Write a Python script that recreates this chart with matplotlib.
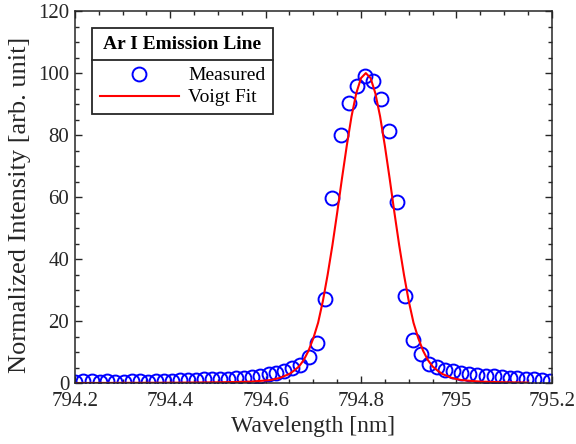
import matplotlib
matplotlib.use('Agg')
import matplotlib.pyplot as plt
from matplotlib.lines import Line2D
from matplotlib.ticker import MultipleLocator

plt.rcParams['font.family'] = ['Liberation Serif', 'DejaVu Serif']

# measured spectrum (wavelength in nm, normalized intensity)
wavelength = [794.201, 794.218, 794.235, 794.252, 794.268, 794.285, 794.302, 794.319,
              794.336, 794.353, 794.370, 794.386, 794.403, 794.420, 794.437, 794.454,
              794.471, 794.488, 794.504, 794.521, 794.538, 794.555, 794.572, 794.589,
              794.606, 794.622, 794.639, 794.656, 794.673, 794.690, 794.707, 794.724,
              794.740, 794.757, 794.774, 794.791, 794.808, 794.825, 794.842, 794.858,
              794.875, 794.892, 794.909, 794.926, 794.943, 794.960, 794.977, 794.993,
              795.010, 795.027, 795.044, 795.061, 795.078, 795.095, 795.112, 795.128,
              795.145, 795.162, 795.179, 795.196]
measured = [0.5, 0.6, 0.6, 0.5, 0.6, 0.5, 0.4, 0.6, 0.6, 0.5,
            0.7, 0.7, 0.8, 0.9, 1.0, 1.1, 1.2, 1.3, 1.4, 1.5,
            1.6, 1.8, 2.1, 2.4, 2.9, 3.4, 4.0, 4.8, 6.0, 8.6,
            13.0, 27.1, 59.8, 80.0, 90.4, 96.0, 99.0, 97.4, 91.6, 81.4,
            58.5, 28.0, 14.0, 9.5, 6.3, 5.2, 4.4, 3.8, 3.3, 3.0,
            2.7, 2.4, 2.2, 2.0, 1.8, 1.6, 1.4, 1.3, 1.1, 0.8]

# Voigt fit curve
fit_wl = [794.20, 794.30, 794.41, 794.51, 794.57, 794.61, 794.63, 794.65, 794.66,
          794.67, 794.68, 794.69, 794.70, 794.71, 794.72, 794.73, 794.74, 794.75,
          794.76, 794.77, 794.78, 794.79, 794.80, 794.81, 794.82, 794.83, 794.84,
          794.85, 794.86, 794.87, 794.88, 794.89, 794.90, 794.91, 794.92, 794.93,
          794.94, 794.95, 794.96, 794.97, 794.99, 795.01, 795.05, 795.10, 795.15]
fit_val = [0.05, 0.1, 0.15, 0.3, 0.5, 1.0, 1.7, 3.0, 4.1,
           5.4, 7.5, 10.5, 14.5, 19.5, 26.5, 35.0, 44.5, 55.0,
           66.0, 76.5, 86.0, 93.5, 98.4, 100.0, 98.4, 93.5, 86.0,
           76.5, 66.0, 55.0, 44.5, 35.0, 26.5, 19.5, 14.5, 10.5,
           7.5, 5.4, 4.1, 3.0, 1.7, 1.0, 0.5, 0.3, 0.2]

fig = plt.figure(figsize=(5.76, 4.44), dpi=100)
ax = fig.add_axes([0.130, 0.137, 0.828, 0.838])

ax.plot(wavelength, measured, 'o', mfc='none', mec=(0, 0, 1), ms=10, mew=1.4,
        label='Measured')
ax.plot(fit_wl, fit_val, '-', color=(1, 0, 0), lw=1.5, label='Voigt Fit')

ax.set_xlim(794.2, 795.2)
ax.set_ylim(0, 120)
ax.xaxis.set_major_locator(MultipleLocator(0.2))
ax.xaxis.set_minor_locator(MultipleLocator(0.05))
ax.yaxis.set_major_locator(MultipleLocator(20))
ax.yaxis.set_minor_locator(MultipleLocator(5))
ax.set_xticks([794.2, 794.4, 794.6, 794.8, 795.0, 795.2])
ax.set_xticklabels(['794.2', '794.4', '794.6', '794.8', '795', '795.2'])

ax.tick_params(which='both', direction='in', top=True, right=True,
               colors='#262626', labelcolor='#262626', labelsize=15, width=1.0)
ax.tick_params(which='major', length=5)
ax.tick_params(which='minor', length=3)
ax.tick_params(axis='x', which='major', pad=6)
ax.tick_params(axis='y', which='major', pad=4)
for s in ax.spines.values():
    s.set_linewidth(1.1)
    s.set_color('#262626')

ax.set_xlabel('Wavelength [nm]', fontsize=17, color='#262626', labelpad=4)
ax.set_ylabel('Normalized Intensity [arb. unit]', fontsize=19, color='#262626')
ax.yaxis.set_label_coords(-0.093, 0.48)

leg = ax.legend(loc='upper left', bbox_to_anchor=(0.0356, 0.954), borderaxespad=0,
                title='Ar I Emission Line', fontsize=14, handlelength=4.1,
                fancybox=False, edgecolor='#262626', framealpha=1,
                borderpad=0.4, labelspacing=0.22, handletextpad=0.45)
leg.get_title().set_fontweight('bold')
leg.get_title().set_fontsize(14)
leg.get_frame().set_linewidth(1.3)
leg._legend_box.sep = 10

# separator line between legend title and entries
fig.canvas.draw()
r = fig.canvas.get_renderer()
fb = leg.get_frame().get_window_extent(r)
tb = leg.get_title().get_window_extent(r)
eb = leg.get_texts()[0].get_window_extent(r)
ysep = 0.5 * (tb.y0 + eb.y1)
inv = fig.transFigure.inverted()
p0 = inv.transform((fb.x0, ysep))
p1 = inv.transform((fb.x1, ysep))
fig.add_artist(Line2D([p0[0], p1[0]], [p0[1], p1[1]], transform=fig.transFigure,
                      color='#262626', lw=1.3))

fig.savefig('out.png', dpi=100)
